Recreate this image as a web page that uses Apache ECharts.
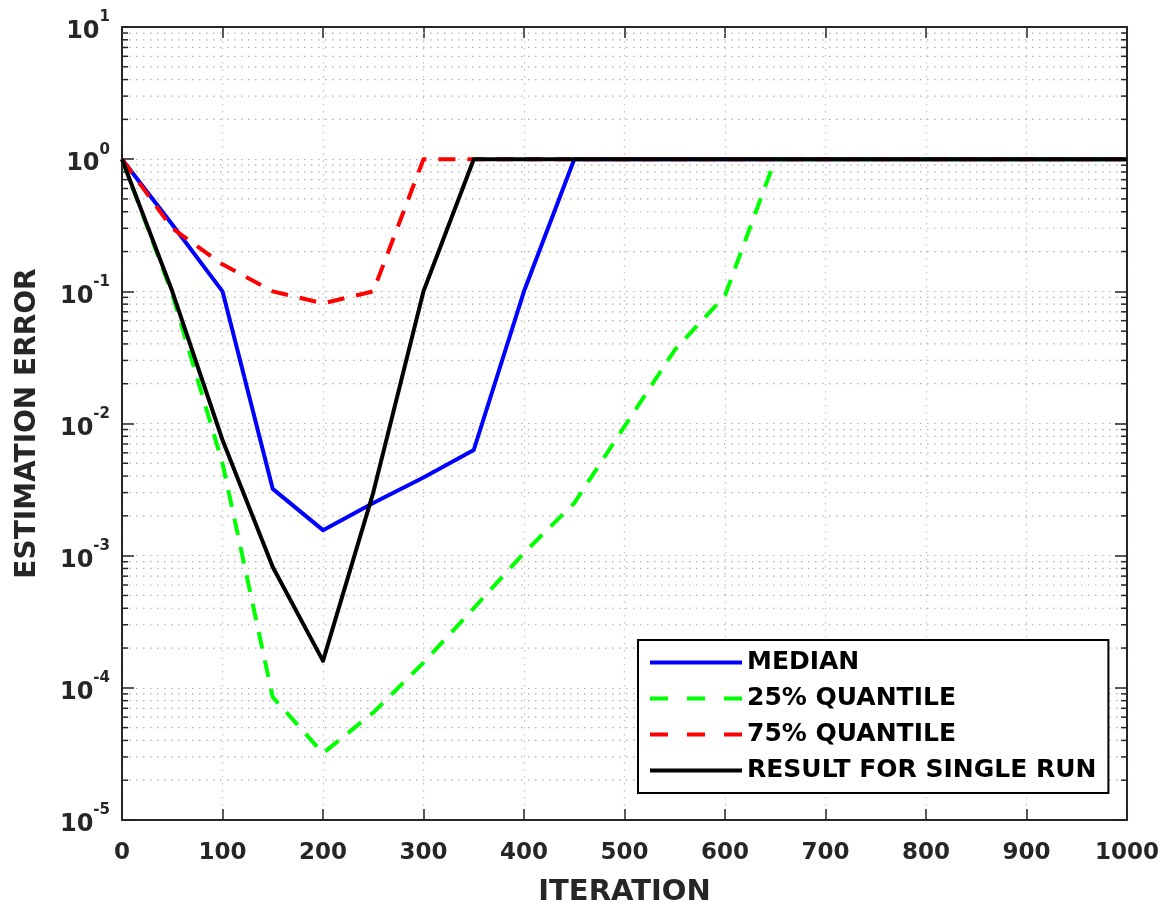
<!DOCTYPE html>
<html>
<head>
<meta charset="utf-8">
<script src="https://cdn.jsdelivr.net/npm/echarts@6/dist/echarts.min.js"></script>
<style>
  html, body { margin: 0; padding: 0; background: #fff; }
  #chart { width: 1171px; height: 913px; }
</style>
</head>
<body>
<div id="chart"></div>
<script>
// iteration axis (x)
const iterations = [0, 50, 100, 150, 200, 250, 300, 350, 400, 450, 500,
  550, 600, 650, 700, 750, 800, 850, 900, 950, 1000];

// estimation error
const medianErr = [1, 0.32, 0.1, 0.0032, 0.00156, 0.0025, 0.0039, 0.0063, 0.1, 1, 1,
  1, 1, 1, 1, 1, 1, 1, 1, 1, 1];
const quantile25Err = [1, 0.095, 0.005, 8.5e-5, 3.2e-5, 6.5e-5, 1.55e-4, 4e-4, 1.05e-3, 2.5e-3, 0.0095,
  0.036, 0.093, 1, 1, 1, 1, 1, 1, 1, 1];
const quantile75Err = [1, 0.3, 0.16, 0.1, 0.081, 0.1, 1, 1, 1, 1, 1,
  1, 1, 1, 1, 1, 1, 1, 1, 1, 1];
const singleRunErr = [1, 0.1, 0.0075, 8.2e-4, 1.6e-4, 0.003, 0.1, 1, 1, 1, 1,
  1, 1, 1, 1, 1, 1, 1, 1, 1, 1];

const seriesNames = ["MEDIAN", "25% QUANTILE", "75% QUANTILE", "RESULT FOR SINGLE RUN"];

// log axis: decades and the 2..9 minor ticks between them
const decadeExps = [-5, -4, -3, -2, -1, 0, 1];
const minorMultipliers = [2, 3, 4, 5, 6, 7, 8, 9];
const minorTicks = [];
decadeExps.slice(0, -1).forEach(e => {
  minorMultipliers.forEach(m => minorTicks.push(m * Math.pow(10, e)));
});

const FONT = "DejaVu Sans";
const TEXT = "#262626";
const xMin = 0;
const xMax = 1000;

const pairs = ys => iterations.map((x, i) => [x, ys[i]]);

const chart = echarts.init(document.getElementById("chart"));

const lineSeries = (name, data, color, dashed) => ({
  name: name,
  type: "line",
  data: pairs(data),
  symbol: "none",
  z: 3,
  lineStyle: {
    color: color,
    width: 4,
    type: dashed ? [17, 12] : "solid",
    cap: "butt",
    join: "round"
  },
  itemStyle: { color: color },
  animation: false
});

chart.setOption({
  backgroundColor: "#fff",
  animation: false,
  grid: { left: 122, right: 44, top: 27, bottom: 93 },
  legend: {
    orient: "vertical",
    left: 638,
    top: 640,
    padding: [10, 12, 10, 10],
    itemGap: 11,
    itemWidth: 92,
    itemHeight: 14,
    backgroundColor: "#fff",
    borderColor: "#000",
    borderWidth: 2,
    borderRadius: 0,
    itemStyle: { opacity: 0, borderWidth: 0 },
    lineStyle: { width: 4 },
    textStyle: { fontFamily: FONT, fontWeight: "bold", fontSize: 25, color: "#000" },
    data: [
      { name: seriesNames[0] },
      { name: seriesNames[1], lineStyle: { type: [18, 19], width: 4 } },
      { name: seriesNames[2], lineStyle: { type: [18, 19], width: 4 } },
      { name: seriesNames[3] }
    ]
  },
  xAxis: [
    {
      type: "value",
      min: xMin,
      max: xMax,
      interval: 100,
      name: "ITERATION",
      nameLocation: "middle",
      nameGap: 58,
      nameTextStyle: { fontFamily: FONT, fontWeight: "bold", fontSize: 29, color: TEXT },
      axisLine: { show: true, onZero: false, lineStyle: { color: TEXT, width: 2 } },
      axisTick: { show: true, inside: true, length: 11, lineStyle: { color: TEXT, width: 1.5 } },
      axisLabel: {
        margin: 22,
        fontFamily: FONT,
        fontWeight: "bold",
        fontSize: 23,
        color: TEXT,
        formatter: v => String(v)
      },
      splitLine: { show: true, lineStyle: { color: "#c4c4c4", width: 1.2, type: [1.5, 5.5] } }
    },
    {
      type: "value",
      position: "top",
      min: xMin,
      max: xMax,
      interval: 100,
      axisLine: { show: true, onZero: false, lineStyle: { color: TEXT, width: 2 } },
      axisTick: { show: true, inside: true, length: 11, lineStyle: { color: TEXT, width: 1.5 } },
      axisLabel: { show: false },
      splitLine: { show: false }
    }
  ],
  yAxis: [
    {
      type: "log",
      logBase: 10,
      min: 1e-5,
      max: 10,
      splitNumber: 6,
      name: "ESTIMATION ERROR",
      nameLocation: "middle",
      nameGap: 80,
      nameTextStyle: { fontFamily: FONT, fontWeight: "bold", fontSize: 28, color: TEXT },
      axisLine: { show: true, onZero: false, lineStyle: { color: TEXT, width: 2 } },
      axisTick: { show: true, inside: true, length: 12, lineStyle: { color: TEXT, width: 1.5 } },
      axisLabel: {
        margin: 12,
        color: TEXT,
        formatter: v => "{b|10}{s|" + Math.round(Math.log10(v)) + "}",
        rich: {
          b: { fontFamily: FONT, fontWeight: "bold", fontSize: 24, color: TEXT, lineHeight: 34, verticalAlign: "bottom" },
          s: { fontFamily: FONT, fontWeight: "bold", fontSize: 15, color: TEXT, lineHeight: 34, verticalAlign: "top" }
        }
      },
      splitLine: { show: true, lineStyle: { color: "#b0b0b0", width: 1.2, type: [1.5, 5.5] } }
    },
    {
      type: "log",
      logBase: 10,
      min: 1e-5,
      max: 10,
      splitNumber: 6,
      position: "right",
      axisLine: { show: true, onZero: false, lineStyle: { color: TEXT, width: 2 } },
      axisTick: { show: true, inside: true, length: 12, lineStyle: { color: TEXT, width: 1.5 } },
      axisLabel: { show: false },
      splitLine: { show: false }
    }
  ],
  series: [
    {
      // minor grid lines and minor ticks of the log axis
      name: "minor",
      type: "custom",
      silent: true,
      z: 1,
      clip: false,
      data: minorTicks.map(v => [xMin, v]),
      encode: { x: 0, y: 1 },
      renderItem: (params, api) => {
        const v = api.value(1);
        const a = api.coord([xMin, v]);
        const b = api.coord([xMax, v]);
        return {
          type: "group",
          children: [
            {
              type: "line",
              shape: { x1: a[0], y1: a[1], x2: b[0], y2: b[1] },
              style: { stroke: "#b0b0b0", lineWidth: 1.2, lineDash: [1.5, 5.5] }
            },
            {
              type: "line",
              shape: { x1: a[0], y1: a[1], x2: a[0] + 6, y2: a[1] },
              style: { stroke: TEXT, lineWidth: 1.5 }
            },
            {
              type: "line",
              shape: { x1: b[0] - 6, y1: b[1], x2: b[0], y2: b[1] },
              style: { stroke: TEXT, lineWidth: 1.5 }
            }
          ]
        };
      },
      animation: false
    },
    lineSeries(seriesNames[0], medianErr, "#0000ff", false),
    lineSeries(seriesNames[1], quantile25Err, "#00ff00", true),
    lineSeries(seriesNames[2], quantile75Err, "#ff0000", true),
    lineSeries(seriesNames[3], singleRunErr, "#000000", false)
  ]
});
</script>
</body>
</html>
